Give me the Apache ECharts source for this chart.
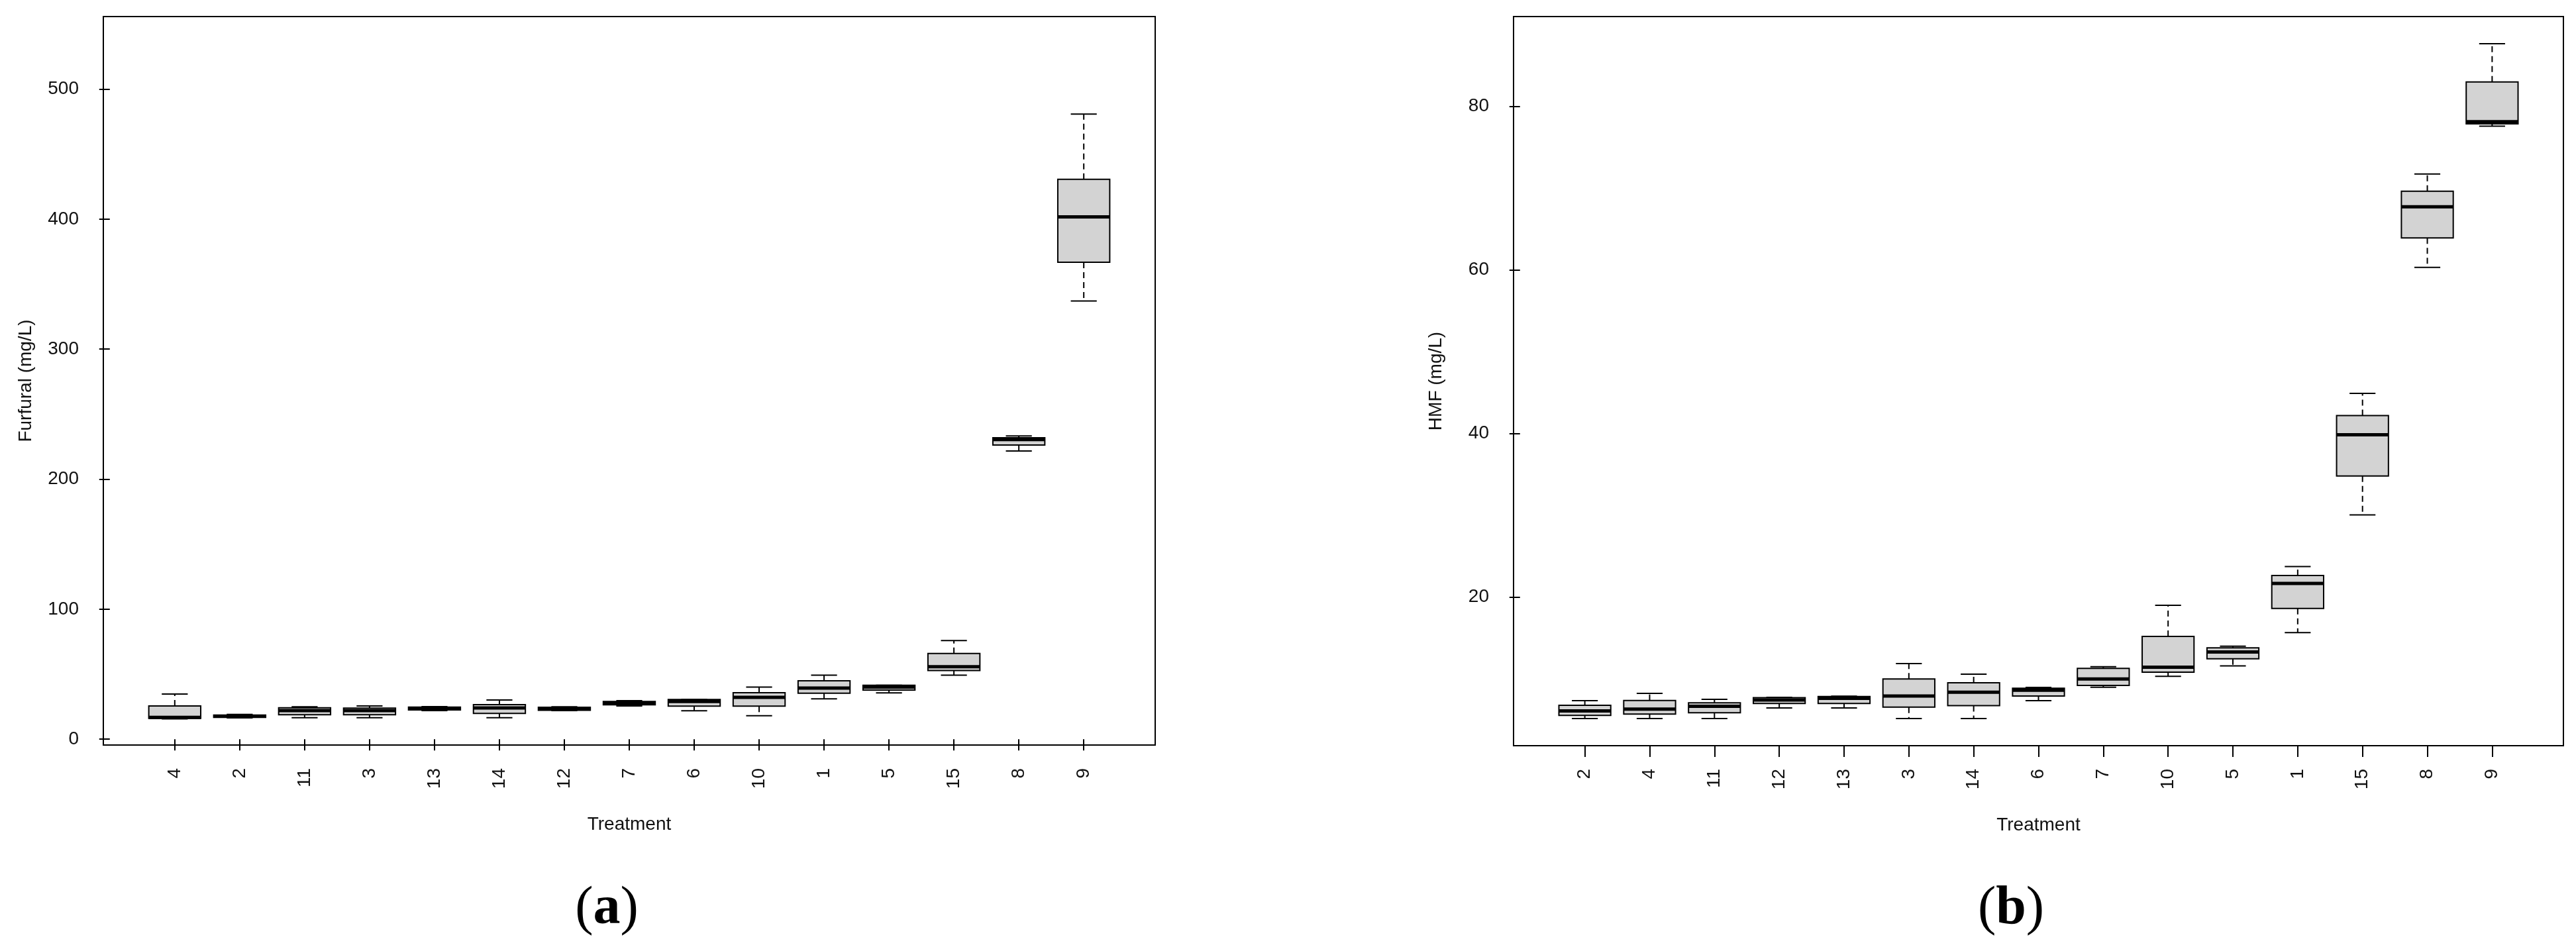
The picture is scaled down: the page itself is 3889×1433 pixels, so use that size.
<!DOCTYPE html>
<html>
<head>
<meta charset="utf-8">
<title>Furfural / HMF boxplots</title>
<script src="https://cdn.jsdelivr.net/npm/echarts@6/dist/echarts.min.js"></script>
<style>
  html, body { margin: 0; padding: 0; background: #fff; }
  #chart { width: 3889px; height: 1433px; }
</style>
</head>
<body>
<div id="chart"></div>
<script>
// Panel (a) : furfural, boxes in the order of the plot
const furfuralCats   = ['4', '2', '11', '3', '13', '14', '12', '7', '6', '10', '1', '5', '15', '8', '9'];
const furfuralMin    = [15.6, 16.4, 16.5, 16.5, 22.0, 16.5, 22.0, 25.6, 21.9, 18.1, 31.0, 35.6, 49.3, 221.6, 337.0];
const furfuralQ1     = [16.0, 16.8, 18.8, 18.8, 22.5, 19.8, 22.3, 26.5, 25.4, 25.4, 35.4, 37.8, 52.8, 226.3, 366.8];
const furfuralMedian = [16.8, 17.6, 22.0, 22.0, 23.8, 24.0, 23.5, 27.8, 29.0, 32.2, 39.3, 40.1, 55.7, 230.5, 401.7];
const furfuralQ3     = [25.6, 18.6, 24.1, 23.9, 24.6, 26.6, 24.5, 29.0, 30.5, 35.8, 44.9, 41.5, 65.9, 231.9, 430.6];
const furfuralMax    = [34.7, 19.0, 24.9, 25.6, 25.0, 30.2, 24.9, 29.6, 30.5, 40.1, 49.3, 41.5, 75.9, 233.3, 480.8];
const furfuralTicks  = [0, 100, 200, 300, 400, 500];

// Panel (b) : HMF
const hmfCats   = ['2', '4', '11', '12', '13', '3', '14', '6', '7', '10', '5', '1', '15', '8', '9'];
const hmfMin    = [5.17, 5.17, 5.17, 6.47, 6.47, 5.17, 5.17, 7.36, 9.0, 10.33, 11.6, 15.67, 30.05, 60.3, 77.56];
const hmfQ1     = [5.55, 5.71, 5.87, 7.01, 7.01, 6.57, 6.74, 7.92, 9.22, 10.84, 12.47, 18.63, 34.8, 63.9, 77.83];
const hmfMedian = [6.09, 6.33, 6.66, 7.44, 7.63, 7.92, 8.38, 8.63, 10.0, 11.44, 13.3, 21.67, 39.85, 67.7, 78.1];
const hmfQ3     = [6.79, 7.38, 7.09, 7.71, 7.85, 10.0, 9.54, 8.87, 11.3, 15.2, 13.8, 22.64, 42.2, 69.6, 82.96];
const hmfMax    = [7.36, 8.25, 7.52, 7.75, 7.9, 11.89, 10.6, 8.97, 11.5, 19.0, 14.0, 23.75, 44.9, 71.7, 87.63];
const hmfTicks  = [20, 40, 60, 80];

const positions = furfuralCats.map((c, i) => i + 1);
const FONT = 'Arial, "Liberation Sans", sans-serif';
const INK = '#111';

// une boite a moustaches facon R (moustaches en tirets, mediane epaisse)
function renderBox(params, api) {
    const x = api.value(0);
    const pMin = api.coord([x, api.value(1)]);
    const pQ1 = api.coord([x, api.value(2)]);
    const pMed = api.coord([x, api.value(3)]);
    const pQ3 = api.coord([x, api.value(4)]);
    const pMax = api.coord([x, api.value(5)]);
    const half = api.size([0.8, 0])[0] / 2;
    const cap = half / 2;
    const cx = pMed[0];
    const thin = { stroke: '#000', lineWidth: 2 };
    const dashed = { stroke: '#000', lineWidth: 2, lineDash: [9, 6] };
    return {
        type: 'group',
        children: [
            { type: 'line', shape: { x1: cx, y1: pQ3[1], x2: cx, y2: pMax[1] }, style: dashed },
            { type: 'line', shape: { x1: cx, y1: pQ1[1], x2: cx, y2: pMin[1] }, style: dashed },
            { type: 'line', shape: { x1: cx - cap, y1: pMax[1], x2: cx + cap, y2: pMax[1] }, style: thin },
            { type: 'line', shape: { x1: cx - cap, y1: pMin[1], x2: cx + cap, y2: pMin[1] }, style: thin },
            {
                type: 'rect',
                shape: { x: cx - half, y: pQ3[1], width: half * 2, height: pQ1[1] - pQ3[1] },
                style: { fill: '#D3D3D3', stroke: '#000', lineWidth: 2 }
            },
            { type: 'line', shape: { x1: cx - half, y1: pMed[1], x2: cx + half, y2: pMed[1] }, style: { stroke: '#000', lineWidth: 5 } }
        ]
    };
}

function boxData(mins, q1s, meds, q3s, maxs) {
    return mins.map((m, i) => [i + 1, m, q1s[i], meds[i], q3s[i], maxs[i]]);
}

function xAxisFor(gridIndex, cats) {
    return {
        type: 'value',
        gridIndex: gridIndex,
        min: -0.1,
        max: 16.1,
        name: 'Treatment',
        nameLocation: 'middle',
        nameGap: 106,
        nameTextStyle: { fontFamily: FONT, fontSize: 28, color: INK },
        axisLine: { show: false },
        splitLine: { show: false },
        axisTick: { show: true, inside: false, length: 17, customValues: positions, lineStyle: { color: '#000', width: 2 } },
        axisLabel: {
            customValues: positions,
            rotate: 90,
            margin: 35,
            fontFamily: FONT,
            fontSize: 28,
            color: INK,
            formatter: v => cats[Math.round(v) - 1]
        }
    };
}

function yAxisFor(gridIndex, name, min, max, ticks) {
    return {
        type: 'value',
        gridIndex: gridIndex,
        min: min,
        max: max,
        name: name,
        nameLocation: 'middle',
        nameGap: 103,
        nameTextStyle: { fontFamily: FONT, fontSize: 28, color: INK },
        axisLine: { show: false },
        splitLine: { show: false },
        axisTick: { show: true, inside: false, length: 16, customValues: ticks, lineStyle: { color: '#000', width: 2 } },
        axisLabel: { customValues: ticks, margin: 37, fontFamily: FONT, fontSize: 28, color: INK }
    };
}

const chart = echarts.init(document.getElementById('chart'), null, { renderer: 'canvas' });

chart.setOption({
    animation: false,
    backgroundColor: '#fff',
    grid: [
        { left: 156, top: 25, width: 1588, height: 1100, show: true, borderColor: '#000', borderWidth: 2, backgroundColor: 'transparent' },
        { left: 2285, top: 25, width: 1585, height: 1101, show: true, borderColor: '#000', borderWidth: 2, backgroundColor: 'transparent' }
    ],
    xAxis: [xAxisFor(0, furfuralCats), xAxisFor(1, hmfCats)],
    yAxis: [
        yAxisFor(0, 'Furfural (mg/L)', -4.5, 555.8, furfuralTicks),
        yAxisFor(1, 'HMF (mg/L)', 1.85, 90.95, hmfTicks)
    ],
    series: [
        {
            type: 'custom',
            xAxisIndex: 0,
            yAxisIndex: 0,
            renderItem: renderBox,
            encode: { x: 0, y: [1, 2, 3, 4, 5] },
            data: boxData(furfuralMin, furfuralQ1, furfuralMedian, furfuralQ3, furfuralMax)
        },
        {
            type: 'custom',
            xAxisIndex: 1,
            yAxisIndex: 1,
            renderItem: renderBox,
            encode: { x: 0, y: [1, 2, 3, 4, 5] },
            data: boxData(hmfMin, hmfQ1, hmfMedian, hmfQ3, hmfMax)
        }
    ],
    graphic: [
        {
            type: 'text', x: 916, y: 1373,
            style: {
                text: '{p|(}{b|a}{p|)}', align: 'center', verticalAlign: 'middle',
                rich: {
                    p: { fontFamily: '"Liberation Serif", serif', fontSize: 82, fill: '#000' },
                    b: { fontFamily: '"Liberation Serif", serif', fontSize: 82, fontWeight: 'bold', fill: '#000' }
                }
            }
        },
        {
            type: 'text', x: 3036, y: 1373,
            style: {
                text: '{p|(}{b|b}{p|)}', align: 'center', verticalAlign: 'middle',
                rich: {
                    p: { fontFamily: '"Liberation Serif", serif', fontSize: 82, fill: '#000' },
                    b: { fontFamily: '"Liberation Serif", serif', fontSize: 82, fontWeight: 'bold', fill: '#000' }
                }
            }
        }
    ]
});

window.addEventListener('resize', function () {
    chart.resize();
});
</script>
</body>
</html>
